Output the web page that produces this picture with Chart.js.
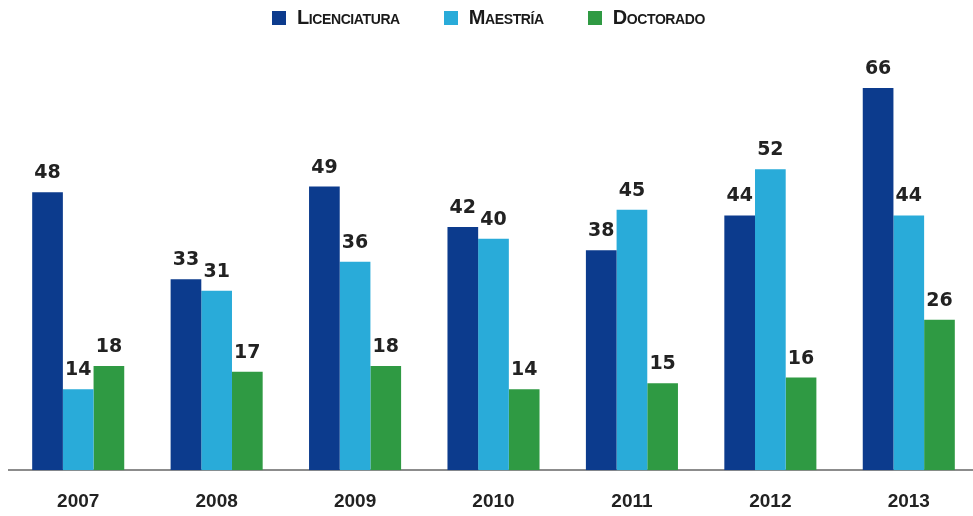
<!DOCTYPE html>
<html>
<head>
<meta charset="utf-8">
<script src="https://cdn.jsdelivr.net/npm/chart.js@4"></script>
<style>
  html, body { margin: 0; padding: 0; background: #fff; overflow: hidden; }
  #wrap { position: relative; width: 990px; height: 540px; }
  #legend {
    position: absolute; top: 6px; left: 0; width: 977px;
    display: flex; justify-content: center; gap: 44px;
    font: bold 20px "Liberation Sans Narrow", "Liberation Sans", sans-serif;
    font-variant: small-caps; letter-spacing: -0.4px; color: #1a1a1a;
  }
  #legend .item { display: flex; align-items: center; }
  #legend .box { width: 14px; height: 14px; margin-right: 11px; }
</style>
</head>
<body>
<div id="wrap">
  <canvas id="chart" width="990" height="540"></canvas>
  <div id="legend"></div>
</div>
<script>
const years = ["2007", "2008", "2009", "2010", "2011", "2012", "2013"];
const licenciatura = [48, 33, 49, 42, 38, 44, 66];
const maestria = [14, 31, 36, 40, 45, 52, 44];
const doctorado = [18, 17, 18, 14, 15, 16, 26];
const seriesNames = ["Licenciatura", "Maestría", "Doctorado"];
const seriesColors = ["#0c3b8d", "#29abd9", "#2f9a43"];

// numbers printed above every bar
const valueLabels = {
  id: "valueLabels",
  afterDatasetsDraw(chart) {
    const ctx = chart.ctx;
    ctx.save();
    ctx.font = 'bold 19px "DejaVu Sans", sans-serif';
    ctx.fillStyle = "#222";
    ctx.textAlign = "center";
    ctx.textBaseline = "alphabetic";
    chart.data.datasets.forEach((ds, i) => {
      chart.getDatasetMeta(i).data.forEach((bar, j) => {
        ctx.fillText(ds.data[j], bar.x, bar.y - 14);
      });
    });
    ctx.restore();
  }
};

const seriesData = [licenciatura, maestria, doctorado];

const chart = new Chart(document.getElementById("chart"), {
  type: "bar",
  data: {
    labels: years,
    datasets: seriesNames.map((name, i) => ({
      label: name,
      data: seriesData[i],
      backgroundColor: seriesColors[i],
      categoryPercentage: 0.665,
      barPercentage: 1
    }))
  },
  options: {
    responsive: false,
    animation: false,
    devicePixelRatio: 1,
    layout: { padding: { left: 9, right: 12, top: 36, bottom: 7 } },
    plugins: { legend: { display: false }, tooltip: { enabled: false } },
    scales: {
      x: {
        grid: { display: false, drawTicks: false },
        border: { display: true, color: "#8c8c8c", width: 2 },
        ticks: {
          padding: 20,
          color: "#222",
          font: { family: '"Liberation Sans", sans-serif', size: 19, weight: "bold" }
        }
      },
      y: { display: false, min: 0, max: 75 }
    }
  },
  plugins: [valueLabels]
});

// legend built from the series names and colours
const legend = document.getElementById("legend");
seriesNames.forEach((name, i) => {
  const item = document.createElement("div");
  item.className = "item";
  const box = document.createElement("span");
  box.className = "box";
  box.style.background = seriesColors[i];
  const text = document.createElement("span");
  text.textContent = name;
  item.appendChild(box);
  item.appendChild(text);
  legend.appendChild(item);
});
</script>
</body>
</html>
